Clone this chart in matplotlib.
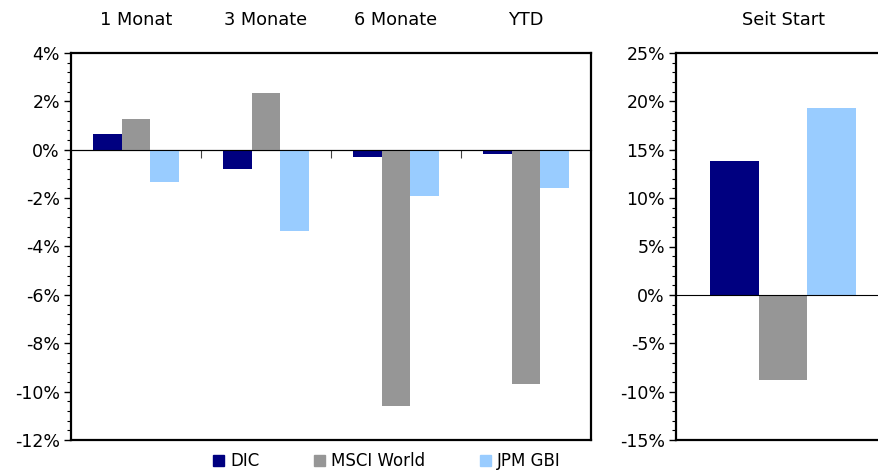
import matplotlib.pyplot as plt
from matplotlib.patches import Patch
from matplotlib.ticker import MultipleLocator, FuncFormatter

# Data (percent)
periods = ['1 Monat', '3 Monate', '6 Monate', 'YTD']
series = ['DIC', 'MSCI World', 'JPM GBI']
dic = [0.66, -0.78, -0.29, -0.17]
msci = [1.28, 2.36, -10.6, -9.7]
jpm = [-1.32, -3.35, -1.9, -1.6]

since_start_label = 'Seit Start'
since_start = [13.8, -8.8, 19.3]  # DIC, MSCI World, JPM GBI

colors = ['#000080', '#969696', '#99CCFF']

plt.rcParams['font.family'] = 'DejaVu Sans'

fig = plt.figure(figsize=(8.79, 4.72), dpi=100)
ax1 = fig.add_axes([71 / 879, 32 / 472, 520 / 879, 387 / 472])
ax2 = fig.add_axes([676 / 879, 32 / 472, 214 / 879, 387 / 472])

pct = FuncFormatter(lambda v, p: f'{v:.0f}%')
w = 0.22

# Left panel: grouped bars
for k, vals in enumerate([dic, msci, jpm]):
    xs = [i + 0.5 + (k - 1) * w for i in range(len(periods))]
    ax1.bar(xs, vals, width=w, color=colors[k], zorder=2)
ax1.set_xlim(0, len(periods))
ax1.set_ylim(-12, 4)
ax1.yaxis.set_major_locator(MultipleLocator(2))
ax1.yaxis.set_minor_locator(MultipleLocator(0.4))
for i, name in enumerate(periods):
    ax1.text(i + 0.5, 1.085, name, transform=ax1.get_xaxis_transform(),
             ha='center', va='center', fontsize=12.8)

# category separators on the zero line
sec = ax1.secondary_xaxis((0 - (-12)) / 16)
sec.set_xticks(range(1, len(periods)))
sec.set_xticklabels([])
sec.spines['bottom'].set_visible(False)
sec.tick_params(direction='in', length=6, width=0.8, color='#444444')

# Right panel: since start
w2 = 0.226
for k, v in enumerate(since_start):
    ax2.bar(0.5 + (k - 1) * w2, v, width=w2, color=colors[k], zorder=2)
ax2.set_xlim(0, 1)
ax2.set_ylim(-15, 25)
ax2.yaxis.set_major_locator(MultipleLocator(5))
ax2.yaxis.set_minor_locator(MultipleLocator(1))
ax2.text(0.5, 1.085, since_start_label, transform=ax2.transAxes,
         ha='center', va='center', fontsize=12.8)

for ax in (ax1, ax2):
    ax.axhline(0, color='black', lw=0.8, zorder=3)
    ax.set_xticks([])
    ax.yaxis.set_major_formatter(pct)
    ax.tick_params(axis='y', which='major', direction='out', length=5,
                   width=1, labelsize=12.5, pad=3)
    ax.tick_params(axis='y', which='minor', direction='out', length=3, width=0.8)
    for s in ax.spines.values():
        s.set_linewidth(1.6)

handles = [Patch(color=c, label=s) for c, s in zip(colors, series)]
fig.legend(handles=handles, loc='center', bbox_to_anchor=(387 / 879, 11 / 472),
           ncol=3, frameon=False, fontsize=12, handlelength=0.65, handleheight=0.65,
           handletextpad=0.35, columnspacing=3.3, borderpad=0)

fig.savefig('out.png', dpi=100)
